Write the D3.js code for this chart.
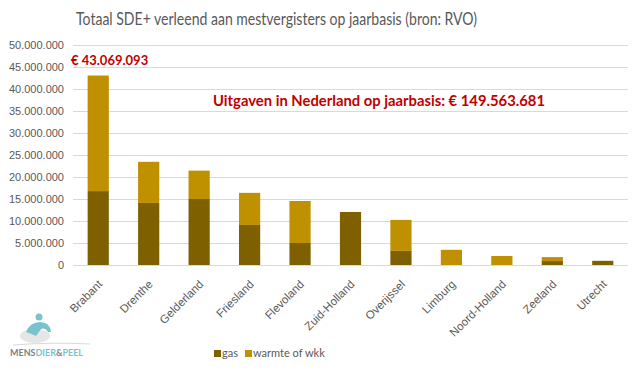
<!DOCTYPE html>
<html>
<head>
<meta charset="utf-8">
<title>Totaal SDE+ verleend aan mestvergisters</title>
<style>
  body { margin: 0; background: #fff; }
  svg { display: block; font-family: Lato, 'Open Sans', sans-serif; }
  .grid line { stroke: #d9d9d9; stroke-width: 1; }
  .tick text { fill: #595959; font-size: 11px; }
</style>
</head>
<body>
<div id="chart"></div>
<script src="https://d3js.org/d3.v7.min.js"></script>
<script>
const provinces = ['Brabant', 'Drenthe', 'Gelderland', 'Friesland', 'Flevoland', 'Zuid-Holland',
  'Overijssel', 'Limburg', 'Noord-Holland', 'Zeeland', 'Utrecht'];
const gas = [16800000, 14100000, 15000000, 9100000, 5000000, 12050000, 3200000, 0, 0, 900000, 950000];
const warmte = [26269093, 9350000, 6450000, 7300000, 9550000, 0, 7050000, 3450000, 2050000, 900000, 0];
const seriesNames = ['gas', 'warmte of wkk'];
const yTicks = d3.range(0, 50000001, 5000000);

const width = 643, height = 371;
const margin = { top: 45, right: 15, bottom: 106, left: 73 };

const svg = d3.select('#chart').append('svg')
  .attr('width', width)
  .attr('height', height);

const x = d3.scaleBand()
  .domain(provinces)
  .range([margin.left, width - margin.right])
  .paddingInner(0.58)
  .paddingOuter(0.29);

const y = d3.scaleLinear()
  .domain([0, 50000000])
  .range([height - margin.bottom, margin.top]);

const fmt = d => d === 0 ? '0' : d3.format(',')(d).replace(/,/g, '.');

// gridlines
svg.append('g')
  .attr('class', 'grid')
  .selectAll('line')
  .data(yTicks)
  .enter()
  .append('line')
  .attr('x1', margin.left)
  .attr('x2', width - margin.right)
  .attr('y1', d => y(d) + 0.5)
  .attr('y2', d => y(d) + 0.5);

// y axis labels
const yAxis = d3.axisLeft(y).tickValues(yTicks).tickFormat(fmt).tickSize(0).tickPadding(9);
svg.append('g')
  .attr('transform', `translate(${margin.left},0)`)
  .call(yAxis)
  .call(g => g.select('.domain').remove());

// stacked bars
const rows = provinces.map((p, i) => ({ province: p, gas: gas[i], warmte: warmte[i] }));
const stack = d3.stack().keys(['gas', 'warmte']);
const colors = { gas: '#7f6000', warmte: '#bf9000' };

svg.append('g')
  .selectAll('g')
  .data(stack(rows))
  .enter()
  .append('g')
  .attr('fill', d => colors[d.key])
  .selectAll('rect')
  .data(d => d)
  .enter()
  .append('rect')
  .attr('x', d => x(d.data.province))
  .attr('width', x.bandwidth())
  .attr('y', d => y(d[1]))
  .attr('height', d => y(d[0]) - y(d[1]));

// x axis labels
const xAxis = d3.axisBottom(x).tickSize(0).tickPadding(0);
svg.append('g')
  .attr('transform', `translate(0,${height - margin.bottom})`)
  .call(xAxis)
  .call(g => g.select('.domain').remove())
  .selectAll('text')
  .attr('text-anchor', 'end')
  .attr('dy', '0.35em')
  .style('font-size', '11.5px')
  .attr('transform', 'translate(2,17) rotate(-45)');

// title
svg.append('text')
  .attr('x', 76)
  .attr('y', 25)
  .attr('fill', '#595959')
  .attr('textLength', 401)
  .attr('lengthAdjust', 'spacingAndGlyphs')
  .style('font-size', '17px')
  .text('Totaal SDE+ verleend aan mestvergisters op jaarbasis (bron: RVO)');

// annotations
svg.append('text')
  .attr('x', 71)
  .attr('y', 65)
  .attr('fill', '#c00000')
  .style('font-size', '13px')
  .style('font-weight', 'bold')
  .text('€ ' + fmt(gas[0] + warmte[0]));

svg.append('text')
  .attr('x', 213)
  .attr('y', 106)
  .attr('fill', '#c00000')
  .attr('textLength', 332)
  .attr('lengthAdjust', 'spacingAndGlyphs')
  .style('font-size', '14.5px')
  .style('font-weight', 'bold')
  .text('Uitgaven in Nederland op jaarbasis: € 149.563.681');

// legend
const legend = svg.append('g')
  .attr('transform', 'translate(214,350)');
const legendX = [0, 31];
seriesNames.forEach((name, i) => {
  const item = legend.append('g').attr('transform', `translate(${legendX[i]},0)`);
  item.append('rect')
    .attr('width', 7)
    .attr('height', 7)
    .attr('fill', i === 0 ? colors.gas : colors.warmte);
  item.append('text')
    .attr('x', 8)
    .attr('y', 7)
    .attr('fill', '#595959')
    .style('font-size', '11px')
    .text(name);
});

// logo
const logo = svg.append('g').attr('transform', 'translate(10,314)');
logo.append('ellipse').attr('cx', 25).attr('cy', 22).attr('rx', 15).attr('ry', 7).attr('fill', '#e6e6e6');
logo.append('circle').attr('cx', 29).attr('cy', 3).attr('r', 3.5).attr('fill', '#79c3cc');
logo.append('path')
  .attr('d', 'M16,18 Q20,8 30,8 Q40,8 41,18 L38,18 Q35,13 31,15 L26,22 Q22,20 16,18 Z')
  .attr('fill', '#79c3cc');
logo.append('path')
  .attr('d', 'M3,31 Q40,28 80,30')
  .attr('fill', 'none')
  .attr('stroke', '#d9d9d9');
const logoText = logo.append('text')
  .attr('y', 42)
  .attr('textLength', 73)
  .attr('lengthAdjust', 'spacingAndGlyphs')
  .style('font-size', '9px')
  .style('font-weight', 'bold');
logoText.append('tspan').attr('fill', '#7f7f7f').text('MENS');
logoText.append('tspan').attr('fill', '#79c3cc').text('DIER');
logoText.append('tspan').attr('fill', '#7f7f7f').text('&');
logoText.append('tspan').attr('fill', '#79c3cc').text('PEEL');
</script>
</body>
</html>
